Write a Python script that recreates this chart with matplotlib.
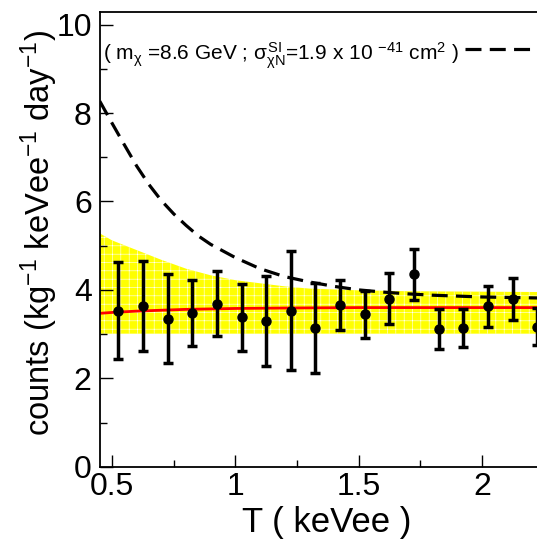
import numpy as np
import matplotlib.pyplot as plt
from matplotlib.lines import Line2D
from matplotlib.ticker import MultipleLocator

plt.rcParams['font.family'] = ['Liberation Sans', 'DejaVu Sans']
plt.rcParams['mathtext.fontset'] = 'custom'
plt.rcParams['mathtext.rm'] = 'Liberation Sans'
plt.rcParams['mathtext.it'] = 'Liberation Sans'
plt.rcParams['mathtext.bf'] = 'Liberation Sans:bold'
plt.rcParams['hatch.linewidth'] = 0.4

# measured spectrum (keVee bins)
T = [0.525, 0.625, 0.725, 0.825, 0.925, 1.025, 1.125, 1.225, 1.325,
     1.425, 1.525, 1.625, 1.725, 1.825, 1.925, 2.025, 2.125, 2.225]
counts = [3.53, 3.63, 3.35, 3.48, 3.69, 3.38, 3.29, 3.53, 3.14,
          3.66, 3.45, 3.80, 4.35, 3.11, 3.14, 3.63, 3.79, 3.17]
err = [1.10, 1.02, 1.01, 0.74, 0.74, 0.76, 1.02, 1.35, 1.01,
       0.57, 0.53, 0.58, 0.57, 0.45, 0.43, 0.46, 0.47, 0.42]

# background fit (red) and its uncertainty band (yellow)
fit_T = [0.45, 0.5, 0.6, 0.7, 0.8, 0.9, 1.0, 1.2, 1.5, 2.0, 2.3]
fit_y = [3.47, 3.49, 3.52, 3.54, 3.56, 3.57, 3.58, 3.59, 3.60, 3.60, 3.60]
band_T = [0.45, 0.5, 0.6, 0.7, 0.8, 0.9, 1.0, 1.1, 1.2, 1.3, 1.5, 1.7, 2.0, 2.3]
band_hi = [5.28, 5.12, 4.90, 4.68, 4.48, 4.33, 4.22, 4.15, 4.08, 4.03, 3.99, 3.97, 3.96, 3.95]
band_lo = [3.01, 3.01, 3.01, 3.01, 3.01, 3.01, 3.01, 3.01, 3.01, 3.01, 3.01, 3.01, 3.01, 3.01]

# expected WIMP signal + background
wimp_T = [0.45, 0.5, 0.55, 0.6, 0.65, 0.7, 0.75, 0.8, 0.85, 0.9, 1.0, 1.1, 1.2,
          1.3, 1.4, 1.5, 1.6, 1.7, 1.8, 1.9, 2.0, 2.1, 2.2, 2.3]
wimp_y = [8.27, 7.77, 7.28, 6.80, 6.38, 6.02, 5.72, 5.46, 5.22, 5.03, 4.73, 4.48,
          4.30, 4.18, 4.08, 4.00, 3.95, 3.91, 3.88, 3.86, 3.84, 3.83, 3.82, 3.81]

fig = plt.figure(figsize=(5.37, 5.39), dpi=100)
ax = fig.add_axes([0.1862, 0.1341, 0.826, 0.8431])

ax.fill_between(band_T, band_lo, band_hi, facecolor='#ffff00', edgecolor='white',
                hatch='++', linewidth=0, zorder=1)
ax.plot(fit_T, fit_y, color='red', lw=2, zorder=2)
ax.plot(wimp_T, wimp_y, color='black', lw=2.3, dashes=(5, 2.6), zorder=3)
ax.errorbar(T, counts, yerr=err, fmt='o', color='black', ms=6.5,
            elinewidth=2.5, capsize=3.5, capthick=2.5, zorder=4, clip_on=False)

ax.set_xlim(0.451, 2.25)
ax.set_ylim(0, 10.28)
ax.xaxis.set_major_locator(MultipleLocator(0.5))
ax.xaxis.set_minor_locator(MultipleLocator(0.25))
ax.yaxis.set_major_locator(MultipleLocator(2))
ax.yaxis.set_minor_locator(MultipleLocator(1))
ax.set_xticks([0.5, 1, 1.5, 2])
ax.set_xticklabels(['0.5', '1', '1.5', '2'])
ax.tick_params(which='both', direction='in', top=False, right=False,
               labelsize=23, width=1)
ax.tick_params(which='major', length=9)
ax.tick_params(which='minor', length=5)
ax.tick_params(axis='x', pad=4)
ax.tick_params(axis='y', pad=6)
for s in ax.spines.values():
    s.set_linewidth(1.3)

ax.set_xlabel('T ( keVee )', fontsize=25)
ax.xaxis.set_label_coords(0.512, -0.086)
ax.set_ylabel(r'counts (kg$^{-1}$ keVee$^{-1}$ day$^{-1}$)', fontsize=23.5)
ax.yaxis.set_label_coords(-0.09, 0.515)

fig.text(0.192, 0.889,
         r'( m$_{\chi}$ =8.6 GeV ; $\sigma^{SI}_{\chi\mathrm{N}}$=1.9 x 10 $^{-41}$ cm$^{2}$ )',
         fontsize=15, va='baseline')
fig.add_artist(Line2D([0.866, 1.0], [0.909, 0.909], color='black', lw=2.3,
                      dashes=(5, 2.6), transform=fig.transFigure))

fig.savefig('out.png', dpi=100)
